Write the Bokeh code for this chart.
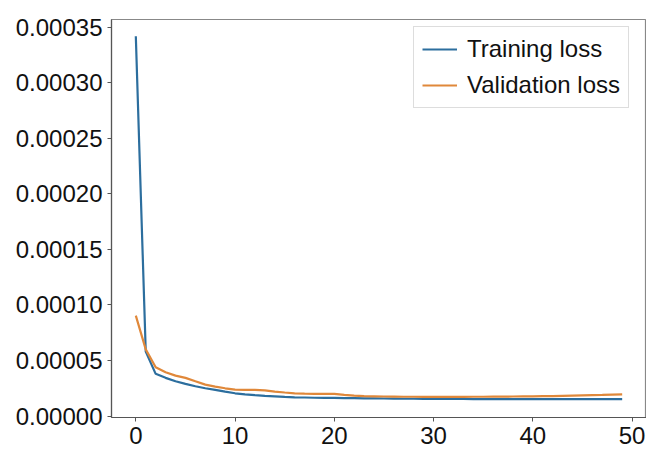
from bokeh.plotting import figure
from bokeh.models import FixedTicker, PrintfTickFormatter, Range1d, Legend, LegendItem
from bokeh.embed import file_html
from bokeh.resources import INLINE

epochs = list(range(50))
training_loss = [0.000342, 0.000058, 0.000038, 0.0000344, 0.0000313, 0.000029, 0.0000268, 0.000025,
                 0.0000236, 0.000022, 0.0000205, 0.0000195, 0.0000188, 0.0000182, 0.0000177, 0.0000172,
                 0.0000169, 0.0000167, 0.0000165, 0.0000164, 0.0000163, 0.0000162, 0.0000161, 0.000016,
                 0.0000159, 0.0000158, 0.0000157, 0.0000156, 0.0000156, 0.0000155, 0.0000155, 0.0000154,
                 0.0000154, 0.0000154, 0.0000153, 0.0000153, 0.0000153, 0.0000152, 0.0000152, 0.0000152,
                 0.0000152, 0.0000152, 0.0000152, 0.0000152, 0.0000152, 0.0000152, 0.0000152, 0.0000152,
                 0.0000152, 0.0000152]
validation_loss = [0.0000904, 0.00006, 0.0000439, 0.0000394, 0.0000364, 0.0000344, 0.0000313, 0.0000283,
                   0.0000265, 0.000025, 0.0000238, 0.0000236, 0.0000236, 0.0000232, 0.000022, 0.0000212,
                   0.0000205, 0.0000202, 0.00002, 0.0000201, 0.00002, 0.000019, 0.0000184, 0.000018,
                   0.0000178, 0.0000176, 0.0000175, 0.0000174, 0.0000174, 0.0000173, 0.0000173, 0.0000173,
                   0.0000173, 0.0000173, 0.0000174, 0.0000174, 0.0000175, 0.0000175, 0.0000176, 0.0000177,
                   0.0000178, 0.0000179, 0.000018, 0.0000182, 0.0000184, 0.0000186, 0.0000188, 0.000019,
                   0.0000193, 0.0000196]
x_ticks = [0, 10, 20, 30, 40, 50]
y_ticks = [0.0, 0.00005, 0.0001, 0.00015, 0.0002, 0.00025, 0.0003, 0.00035]
series_names = ["Training loss", "Validation loss"]

FONT = "Liberation Sans"

p = figure(width=646, height=449, output_backend="svg", toolbar_location=None,
           x_range=Range1d(-2.45, 51.45), y_range=Range1d(-0.0000013, 0.000357),
           min_border_left=111, min_border_right=0, min_border_top=19, min_border_bottom=32)

p.outline_line_color = "#888888"
p.outline_line_width = 1.2
p.grid.visible = False

for ax, ticks in ((p.xaxis[0], x_ticks), (p.yaxis[0], y_ticks)):
    ax.ticker = FixedTicker(ticks=ticks)
    ax.major_label_text_font = FONT
    ax.major_label_text_font_size = "24px"
    ax.major_label_text_color = "#111111"
    ax.axis_line_color = "#555555"
    ax.axis_line_width = 1.2
    ax.major_tick_line_color = "#555555"
    ax.major_tick_in = 0
    ax.major_tick_out = 4
    ax.minor_tick_line_color = None
    ax.major_label_standoff = 5

p.yaxis[0].formatter = PrintfTickFormatter(format="%.5f")

r1 = p.line(epochs, training_loss, line_color="#2c6e9e", line_width=2.2)
r2 = p.line(epochs, validation_loss, line_color="#e0883a", line_width=2.2)

legend = Legend(items=[LegendItem(label=series_names[0], renderers=[r1]),
                       LegendItem(label=series_names[1], renderers=[r2])],
                location=(302, 309))
legend.margin = 0
legend.padding = 8
legend.spacing = 8
legend.label_text_font = FONT
legend.label_text_font_size = "24px"
legend.label_text_color = "#111111"
legend.glyph_width = 35
legend.glyph_height = 24
legend.label_height = 24
legend.label_standoff = 10
legend.border_line_color = "#bbbbbb"
legend.border_line_width = 1.2
legend.background_fill_alpha = 1.0
p.add_layout(legend, "center")

open("out.html", "w").write(file_html(p, INLINE))
